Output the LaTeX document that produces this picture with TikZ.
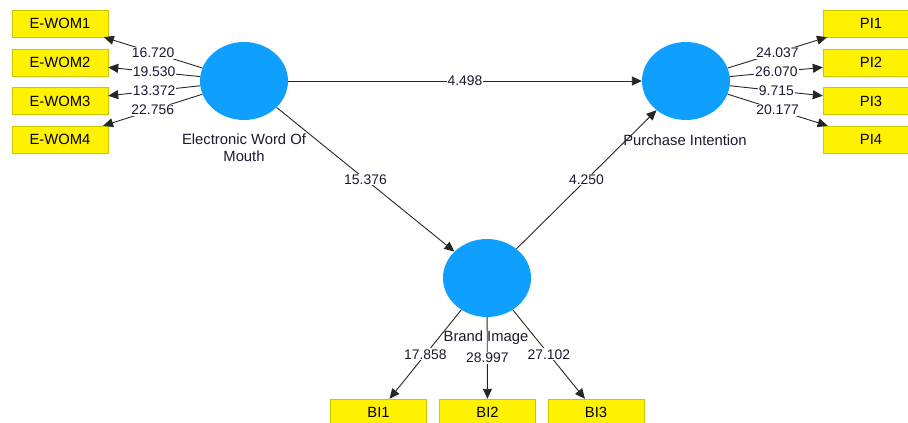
\documentclass[tikz,border=0pt]{standalone}
\usepackage{fontspec}
\setmainfont{Liberation Sans}
\usepackage{xcolor}
\usetikzlibrary{arrows.meta,shapes,backgrounds}

\definecolor{lvblue}{HTML}{0FA0FF}
\definecolor{boxedge}{HTML}{C8C800}
\definecolor{labelink}{HTML}{1A1A30}

\begin{document}
\begin{tikzpicture}[x=1pt,y=-1pt]
      \tikzstyle{latent}=[ellipse,fill=lvblue,minimum width=88pt,minimum height=78pt,inner sep=0pt]
      \tikzstyle{indicator}=[rectangle,draw=boxedge,fill=yellow,minimum width=96pt,minimum height=27pt,inner sep=0pt,font=\fontsize{14.8}{17}\selectfont]
      \tikzstyle{lv_text}=[text=labelink,align=center,inner sep=0pt,font=\fontsize{14.8}{17}\selectfont]
      \tikzstyle{link}=[draw=black!85,line width=0.9pt,-{Triangle[length=10pt,width=9pt]}]
      \tikzstyle{coef}=[fill=white,inner sep=1pt,text=labelink,font=\fontsize{13.9}{15}\selectfont]

      \useasboundingbox (0,0) rectangle (908,423);

      % latent variables
      \node [latent] (EWOM) at (244,81) {};
      \node [latent] (PI) at (686,81) {};
      \node [latent] (BI) at (487,278) {};

      % indicators
      \node [indicator] (EWOM1) at (60,23.5) {E-WOM1};
      \node [indicator] (EWOM2) at (60,62.5) {E-WOM2};
      \node [indicator] (EWOM3) at (60,101) {E-WOM3};
      \node [indicator] (EWOM4) at (60,139.5) {E-WOM4};

      \node [indicator] (PI1) at (871,23.5) {PI1};
      \node [indicator] (PI2) at (871,62.5) {PI2};
      \node [indicator] (PI3) at (871,101) {PI3};
      \node [indicator] (PI4) at (871,139.5) {PI4};

      \node [indicator] (BI1) at (378.5,412.5) {BI1};
      \node [indicator] (BI2) at (487.5,412.5) {BI2};
      \node [indicator] (BI3) at (596,412.5) {BI3};

      % inner model
      \draw [link] (EWOM) -- node [coef] {4.498} (PI);
      \draw [link] (EWOM) -- node [coef] {15.376} (BI);
      \draw [link] (BI) -- node [coef] {4.250} (PI);

      % outer model
      \draw [link] (EWOM) -- node [coef] {16.720} (EWOM1);
      \draw [link] (EWOM) -- node [coef] {19.530} (EWOM2);
      \draw [link] (EWOM) -- node [coef] {13.372} (EWOM3);
      \draw [link] (EWOM) -- node [coef] {22.756} (EWOM4);

      \draw [link] (PI) -- node [coef] {24.037} (PI1);
      \draw [link] (PI) -- node [coef] {26.070} (PI2);
      \draw [link] (PI) -- node [coef] {9.715} (PI3);
      \draw [link] (PI) -- node [coef] {20.177} (PI4);

      \draw [link] (BI) -- node [coef] {17.858} (BI1);
      \draw [link] (BI) -- node [coef] {28.997} (BI2);
      \draw [link] (BI) -- node [coef] {27.102} (BI3);

      % construct names
      \node [lv_text] (EWOMname) at (244,148) {Electronic Word Of\\Mouth};
      \node [lv_text] (PIname) at (685,140) {Purchase Intention};
      \node [lv_text] (BIname) at (486,338) {Brand Image};

\end{tikzpicture}
\end{document}
